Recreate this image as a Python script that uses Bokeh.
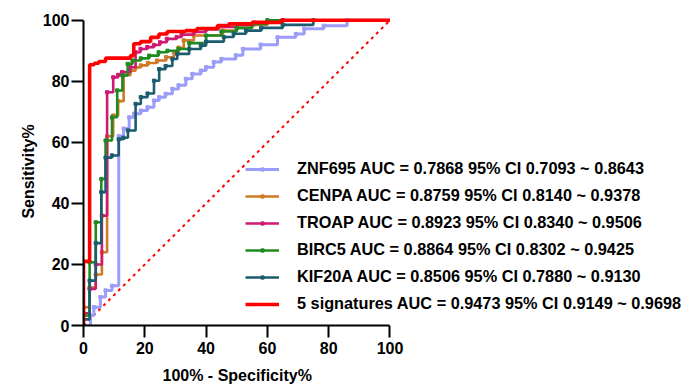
from bokeh.plotting import figure
from bokeh.models import Range1d, FixedTicker, Legend, LegendItem, Title
from bokeh.embed import file_html
from bokeh.resources import INLINE

# ---------------- data ----------------
names = ["ZNF695", "CENPA", "TROAP", "BIRC5", "KIF20A", "5 signatures"]
auc_values = ["0.7868", "0.8759", "0.8923", "0.8864", "0.8506", "0.9473"]
ci_low = ["0.7093", "0.8140", "0.8340", "0.8302", "0.7880", "0.9149"]
ci_high = ["0.8643", "0.9378", "0.9506", "0.9425", "0.9130", "0.9698"]

# ROC step points: 100% - specificity (x) where sensitivity (y) jumps to the value
znf695_x = [2.3, 3.4, 5.5, 7.2, 9.3, 11.5, 13.1, 14.9, 16.5, 18.7, 20.9, 23.0, 24.7, 26.8,
            29.0, 31.0, 33.4, 35.5, 38.3, 40.0, 42.5, 45.0, 49.7, 52.0, 57.8, 63.3, 69.3,
            72.0, 78.4, 86.0]
znf695_y = [3.3, 6.0, 9.3, 11.5, 13.0, 62.0, 64.5, 68.2, 69.4, 70.4, 71.5, 73.7, 74.8, 75.9,
            77.5, 78.7, 80.8, 82.4, 83.5, 84.6, 86.3, 87.3, 88.5, 90.6, 92.0, 94.4, 95.5,
            97.2, 98.2, 100.0]

cenpa_x = [0.0, 2.0, 4.0, 6.0, 7.7, 9.7, 11.3, 13.1, 15.3, 17.0, 18.7, 21.0, 24.0, 27.0,
           29.5, 31.0, 32.7, 36.0, 45.5, 50.0, 55.0, 60.0, 65.0]
cenpa_y = [6.0, 12.4, 16.7, 24.0, 62.0, 68.8, 73.5, 82.0, 83.5, 84.5, 85.2, 86.0, 86.8, 87.9,
           89.5, 91.0, 93.4, 95.0, 96.6, 97.5, 98.5, 99.3, 100.0]

troap_x = [0.0, 2.0, 4.0, 6.0, 7.7, 9.7, 11.3, 12.6, 15.3, 17.0, 18.6, 20.8, 23.0, 25.0,
           27.2, 30.4, 32.0, 36.0, 40.0, 44.0, 50.0, 56.0, 65.0]
troap_y = [4.0, 12.0, 20.0, 36.0, 76.4, 81.3, 82.1, 83.0, 84.6, 89.5, 90.6, 91.2, 91.9, 92.8,
           93.9, 94.5, 95.3, 96.2, 97.0, 97.8, 98.5, 99.2, 100.0]

birc5_x = [0.0, 2.0, 4.0, 5.8, 7.2, 9.3, 11.0, 12.7, 14.4, 16.0, 18.7, 21.4, 24.5, 27.4,
           31.0, 34.5, 40.0, 45.0, 50.0, 55.0, 60.0]
birc5_y = [3.3, 20.7, 33.8, 48.0, 60.6, 68.2, 77.0, 81.9, 85.7, 86.8, 87.5, 88.4, 89.5, 90.0,
           90.6, 92.5, 95.0, 96.3, 97.5, 98.8, 100.0]

kif20a_x = [0.0, 2.0, 4.0, 5.8, 7.2, 9.3, 11.5, 13.0, 14.5, 17.0, 18.7, 20.9, 23.0, 24.7,
            26.8, 29.0, 30.6, 34.5, 38.3, 40.0, 45.8, 49.0, 53.0, 58.0, 65.0, 75.0]
kif20a_y = [2.0, 14.7, 27.0, 43.7, 55.0, 55.7, 61.0, 61.5, 63.9, 72.6, 74.8, 76.0, 80.2, 84.0,
            85.0, 87.3, 89.0, 90.6, 91.7, 93.0, 94.5, 95.6, 96.6, 97.5, 98.5, 100.0]

combo_x = [0.0, 2.0, 3.5, 5.0, 7.2, 15.3, 16.4, 18.6, 21.9, 24.6, 27.3, 33.3, 37.0, 43.7,
           47.4, 55.0, 64.4]
combo_y = [21.0, 85.4, 85.9, 86.5, 87.6, 88.4, 92.3, 93.0, 94.4, 95.5, 96.3, 96.6, 97.3, 98.3,
           98.8, 99.3, 100.0]

chance_x = [0, 100]
chance_y = [0, 100]

x_ticks = [0, 20, 40, 60, 80, 100]
y_ticks = [0, 20, 40, 60, 80, 100]

x_title = "100% - Specificity%"
y_title = "Sensitivity%"

colors = ["#9C9CFA", "#CF7A26", "#CF1A74", "#1F8A22", "#1D5C6E", "#FF0000"]
widths = [3.0, 2.6, 2.6, 2.6, 2.6, 3.6]

all_x = [znf695_x, cenpa_x, troap_x, birc5_x, kif20a_x, combo_x]
all_y = [znf695_y, cenpa_y, troap_y, birc5_y, kif20a_y, combo_y]


def staircase(xs, ys):
    vx, vy = [0.0], [0.0]
    for x, y in zip(xs, ys):
        vx += [x, x]
        vy += [vy[-1], y]
    if vx[-1] < 100:
        vx.append(100.0)
        vy.append(vy[-1])
    return vx, vy


FONT = "Liberation Sans"

# frame: 605 px wide for 197.4 units (3.065 px/unit), 308 px high for 100.9 units
p = figure(width=688, height=391, output_backend="svg", toolbar_location=None,
           x_range=Range1d(0, 197.4), y_range=Range1d(0, 100.9),
           min_border_left=83, min_border_right=0, min_border_top=17, min_border_bottom=66)
p.outline_line_color = None
p.grid.visible = False
p.background_fill_color = "white"

p.line(chance_x, chance_y, line_color="#FF0000", line_width=2, line_dash="3 4")

items = []
for i, name in enumerate(names):
    vx, vy = staircase(all_x[i], all_y[i])
    r = p.line(vx, vy, line_color=colors[i], line_width=widths[i])
    rends = [r]
    if i < 5:
        s = p.scatter(all_x[i], all_y[i], marker="square", size=3.2, color=colors[i])
        rends.append(s)
    label = f"{name} AUC = {auc_values[i]} 95% CI {ci_low[i]} ~ {ci_high[i]}"
    items.append(LegendItem(label=label, renderers=rends))

legend = Legend(items=items, location=(162, 11), glyph_width=34, glyph_height=8,
                label_height=21, spacing=6, label_standoff=18, padding=0, margin=0,
                border_line_color=None, background_fill_alpha=0,
                label_text_font=FONT, label_text_font_style="bold",
                label_text_font_size="16.3px", label_text_color="black")
p.add_layout(legend, "center")

for ax in (p.xaxis[0], p.yaxis[0]):
    ax.bounds = (0, 100)
    ax.axis_line_width = 2
    ax.axis_line_color = "black"
    ax.major_tick_line_width = 2
    ax.major_tick_line_color = "black"
    ax.major_tick_out = 12
    ax.major_tick_in = 0
    ax.minor_tick_line_color = None
    ax.major_label_text_font = FONT
    ax.major_label_text_font_style = "bold"
    ax.major_label_text_font_size = "16px"
    ax.major_label_text_color = "black"
    ax.axis_label_text_font = FONT
    ax.axis_label_text_font_style = "bold"
    ax.axis_label_text_font_size = "16px"
    ax.axis_label_text_color = "black"

p.xaxis[0].ticker = FixedTicker(ticks=x_ticks)
p.yaxis[0].ticker = FixedTicker(ticks=y_ticks)
p.yaxis[0].axis_label = y_title
p.xaxis[0].major_label_standoff = 4
p.yaxis[0].major_label_standoff = 2
p.yaxis[0].axis_label_standoff = 3

# x-axis title, centred under the 0..100 part of the axis
xt = Title(text=x_title, align="left", offset=79, standoff=16,
           text_font=FONT, text_font_style="bold", text_font_size="16px",
           text_color="black")
p.add_layout(xt, "below")

open("out.html", "w").write(file_html(p, INLINE))
